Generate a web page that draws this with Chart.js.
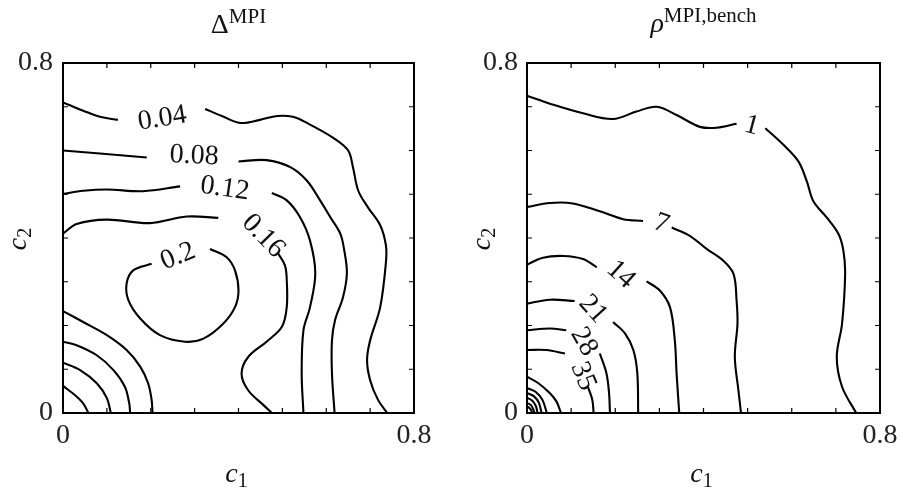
<!DOCTYPE html>
<html>
<head>
<meta charset="utf-8">
<script src="https://cdn.jsdelivr.net/npm/chart.js@4.4.1/dist/chart.umd.min.js"></script>
<style>
html, body { margin: 0; padding: 0; background: #fff; }
#wrap { position: relative; width: 900px; height: 493px; }
.panel { position: absolute; top: 0; width: 450px; height: 493px; }
</style>
</head>
<body>
<div id="wrap">
  <div class="panel" style="left:0"><canvas id="deltaChart" width="450" height="493"></canvas></div>
  <div class="panel" style="left:450px"><canvas id="rhoChart" width="450" height="493"></canvas></div>
</div>
<script>
// axes (both panels)
const axisMin = 0, axisMax = 0.8;
const tickValues = [0, 0.1, 0.2, 0.3, 0.4, 0.5, 0.6, 0.7, 0.8];
const tickLabels = ['0', '', '', '', '', '', '', '', '0.8'];

// Left panel: Delta^MPI contours, each level = list of line pieces [c1, c2]
const deltaLevel004 = [
  [[0, 0.710], [0.046, 0.691], [0.084, 0.677], [0.125, 0.670]],
  [[0.324, 0.695], [0.362, 0.679], [0.404, 0.663], [0.449, 0.670], [0.488, 0.679], [0.524, 0.677], [0.556, 0.663],
   [0.616, 0.629], [0.650, 0.600], [0.661, 0.561], [0.673, 0.508], [0.695, 0.470], [0.723, 0.429], [0.736, 0.383],
   [0.736, 0.344], [0.723, 0.242], [0.700, 0.166], [0.693, 0.121], [0.700, 0.075], [0.718, 0.030], [0.739, 0]]
];
const deltaLevel008 = [
  [[0, 0.600], [0.084, 0.593], [0.191, 0.584]],
  [[0.400, 0.575], [0.464, 0.578], [0.518, 0.562], [0.556, 0.531], [0.586, 0.486], [0.609, 0.448], [0.632, 0.410],
   [0.641, 0.372], [0.647, 0.319], [0.638, 0.264], [0.620, 0.212], [0.613, 0.166], [0.613, 0.091], [0.619, 0]]
];
const deltaLevel012 = [
  [[0, 0.501], [0.046, 0.508], [0.100, 0.511], [0.182, 0.507], [0.267, 0.518]],
  [[0.476, 0.503], [0.510, 0.486], [0.540, 0.448], [0.563, 0.394], [0.575, 0.319], [0.563, 0.242], [0.548, 0.189],
   [0.544, 0.091], [0.548, 0]]
];
const deltaLevel016 = [
  [[0, 0.410], [0.031, 0.432], [0.100, 0.442], [0.198, 0.434], [0.282, 0.449], [0.354, 0.446]],
  [[0.490, 0.365], [0.506, 0.337], [0.510, 0.303], [0.510, 0.242], [0.499, 0.197], [0.464, 0.163], [0.422, 0.128],
   [0.407, 0.090], [0.422, 0.052], [0.457, 0.018], [0.476, 0]]
];
const deltaLevel020 = [
  [[0.335, 0.375], [0.373, 0.356], [0.392, 0.326], [0.400, 0.280], [0.392, 0.242], [0.365, 0.204], [0.320, 0.170],
   [0.278, 0.163], [0.221, 0.178], [0.176, 0.216], [0.149, 0.258], [0.145, 0.296], [0.160, 0.326], [0.202, 0.341]]
];
// unlabelled levels near the origin (0.16, 0.12, 0.08, 0.04)
const deltaCorner = [
  [[0, 0.233], [0.046, 0.208], [0.100, 0.178], [0.145, 0.144], [0.176, 0.106], [0.194, 0.068], [0.202, 0.030], [0.204, 0]],
  [[0, 0.163], [0.031, 0.155], [0.077, 0.132], [0.115, 0.098], [0.141, 0.060], [0.151, 0.022], [0.153, 0]],
  [[0, 0.115], [0.039, 0.098], [0.077, 0.068], [0.100, 0.034], [0.109, 0]],
  [[0, 0.062], [0.027, 0.041], [0.046, 0.022], [0.058, 0]]
];
const deltaLabels = [
  { text: '0.04', x: 0.226, y: 0.675, rot: -9 },
  { text: '0.08', x: 0.299, y: 0.590, rot: 3 },
  { text: '0.12', x: 0.369, y: 0.515, rot: 8 },
  { text: '0.16', x: 0.458, y: 0.406, rot: 46 },
  { text: '0.2', x: 0.261, y: 0.360, rot: -22 }
];

// Right panel: rho^MPI,bench contours
const rhoLevel1 = [
  [[0, 0.725], [0.052, 0.707], [0.127, 0.685], [0.195, 0.672], [0.248, 0.689], [0.294, 0.700], [0.339, 0.681],
   [0.392, 0.654], [0.430, 0.652], [0.475, 0.661]],
  [[0.540, 0.651], [0.581, 0.613], [0.615, 0.575], [0.634, 0.530], [0.649, 0.484], [0.680, 0.446], [0.706, 0.409],
   [0.717, 0.371], [0.721, 0.318], [0.714, 0.204], [0.702, 0.128], [0.714, 0.060], [0.746, 0]]
];
const rhoLevel7 = [
  [[0, 0.471], [0.052, 0.480], [0.104, 0.479], [0.165, 0.461], [0.218, 0.443], [0.263, 0.439]],
  [[0.328, 0.424], [0.369, 0.405], [0.407, 0.375], [0.445, 0.348], [0.468, 0.318], [0.475, 0.257], [0.477, 0.204],
   [0.471, 0.128], [0.479, 0.053], [0.485, 0]]
];
const rhoLevel14 = [
  [[0, 0.339], [0.036, 0.355], [0.082, 0.359], [0.127, 0.352], [0.158, 0.333]],
  [[0.271, 0.301], [0.301, 0.280], [0.324, 0.242], [0.335, 0.166], [0.339, 0.091], [0.345, 0]]
];
const rhoLevel21 = [
  [[0, 0.250], [0.052, 0.259], [0.108, 0.256]],
  [[0.195, 0.208], [0.222, 0.182], [0.241, 0.144], [0.250, 0.091], [0.252, 0]]
];
const rhoLevel28 = [
  [[0, 0.189], [0.052, 0.193], [0.089, 0.189]],
  [[0.165, 0.136], [0.180, 0.091], [0.186, 0.045], [0.188, 0]]
];
const rhoLevel35 = [
  [[0, 0.144], [0.044, 0.144], [0.086, 0.136]],
  [[0.138, 0.060], [0.148, 0.030], [0.151, 0]]
];
// tight unlabelled rings at the origin
const rhoInner = [
  [[0, 0.083], [0.026, 0.068], [0.052, 0.045], [0.067, 0.026], [0.077, 0]],
  [[0, 0.057], [0.020, 0.048], [0.035, 0.030], [0.045, 0]],
  [[0, 0.046], [0.016, 0.038], [0.027, 0.023], [0.033, 0]],
  [[0, 0.035], [0.012, 0.028], [0.020, 0.016], [0.024, 0]],
  [[0, 0.023], [0.009, 0.018], [0.014, 0.009], [0.017, 0]],
  [[0, 0.015], [0.006, 0.011], [0.010, 0.005], [0.011, 0]]
];
const rhoLabels = [
  { text: '1', x: 0.510, y: 0.659, rot: 15 },
  { text: '7', x: 0.305, y: 0.435, rot: 20 },
  { text: '14', x: 0.214, y: 0.318, rot: 42 },
  { text: '21', x: 0.151, y: 0.239, rot: 48 },
  { text: '28', x: 0.131, y: 0.164, rot: 60 },
  { text: '35', x: 0.129, y: 0.085, rot: 68 }
];

const SERIF = '"Liberation Serif", "DejaVu Serif", serif';

// draw a row of text pieces (main + super/subscripts) centred on cx
function drawParts(ctx, parts, cx, base) {
  let w = 0;
  parts.forEach(p => { ctx.font = p.font; p.w = ctx.measureText(p.t).width; w += p.w; });
  let x = cx - w / 2;
  ctx.textAlign = 'left';
  ctx.textBaseline = 'alphabetic';
  parts.forEach(p => { ctx.font = p.font; ctx.fillText(p.t, x, base + p.dy); x += p.w; });
}

function makeDecor(labels, title, titleBase) {
  return {
    id: 'decor',
    afterDatasetsDraw(chart) {
      const ctx = chart.ctx;
      const a = chart.chartArea;
      const xs = chart.scales.x, ys = chart.scales.y;
      ctx.save();

      // contour labels
      ctx.fillStyle = '#111';
      ctx.font = '28px ' + SERIF;
      ctx.textAlign = 'center';
      ctx.textBaseline = 'middle';
      labels.forEach(l => {
        ctx.save();
        ctx.translate(xs.getPixelForValue(l.x), ys.getPixelForValue(l.y));
        ctx.rotate(l.rot * Math.PI / 180);
        ctx.fillText(l.text, 0, 1);
        ctx.restore();
      });

      // box + inward ticks on all sides
      ctx.strokeStyle = '#000';
      ctx.lineWidth = 2;
      ctx.strokeRect(a.left, a.top, a.right - a.left, a.bottom - a.top);
      ctx.lineWidth = 1.2;
      ctx.beginPath();
      tickValues.forEach(v => {
        const px = xs.getPixelForValue(v), py = ys.getPixelForValue(v);
        ctx.moveTo(px, a.bottom); ctx.lineTo(px, a.bottom - 5);
        ctx.moveTo(px, a.top); ctx.lineTo(px, a.top + 5);
        ctx.moveTo(a.left, py); ctx.lineTo(a.left + 5, py);
        ctx.moveTo(a.right, py); ctx.lineTo(a.right - 5, py);
      });
      ctx.stroke();

      // title and axis names
      ctx.fillStyle = '#111';
      const mid = (a.left + a.right) / 2;
      drawParts(ctx, title, mid, titleBase);
      drawParts(ctx, [
        { t: 'c', font: 'italic 28px ' + SERIF, dy: 0 },
        { t: '1', font: '20px ' + SERIF, dy: 5 }
      ], mid - 2, 482);
      ctx.save();
      ctx.translate(a.left - 37, (a.top + a.bottom) / 2 + 1);
      ctx.rotate(-Math.PI / 2);
      drawParts(ctx, [
        { t: 'c', font: 'italic 28px ' + SERIF, dy: 0 },
        { t: '2', font: '20px ' + SERIF, dy: 5 }
      ], 0, 0);
      ctx.restore();

      ctx.restore();
    }
  };
}

function makeChart(id, levels, labels, title, titleBase, yWidth, padRight, yPad) {
  const datasets = levels.flat(1).map(seg => ({
    data: seg.map(p => ({ x: p[0], y: p[1] })),
    showLine: true,
    borderColor: '#000',
    borderWidth: 2.1,
    pointRadius: 0,
    tension: 0.35,
    fill: false
  }));
  const tickFont = { family: SERIF, size: 28 };
  return new Chart(document.getElementById(id), {
    type: 'scatter',
    data: { datasets: datasets },
    options: {
      responsive: false,
      animation: false,
      layout: { padding: { top: 63, right: padRight, left: 0, bottom: 0 } },
      plugins: { legend: { display: false }, tooltip: { enabled: false } },
      scales: {
        x: {
          type: 'linear', min: axisMin, max: axisMax,
          grid: { display: false, drawTicks: false },
          border: { display: false },
          ticks: {
            stepSize: 0.1, autoSkip: false, maxRotation: 0, padding: 6,
            color: '#222', font: tickFont,
            callback: (v, i) => tickLabels[i]
          },
          afterFit: s => { s.height = 80; s.paddingLeft = 0; s.paddingRight = 0; }
        },
        y: {
          type: 'linear', min: axisMin, max: axisMax,
          grid: { display: false, drawTicks: false },
          border: { display: false },
          ticks: {
            stepSize: 0.1, autoSkip: false, padding: yPad,
            color: '#222', font: tickFont,
            callback: (v, i) => tickLabels[i]
          },
          afterFit: s => { s.width = yWidth; s.paddingTop = 0; s.paddingBottom = 0; }
        }
      }
    },
    plugins: [makeDecor(labels, title, titleBase)]
  });
}

makeChart('deltaChart',
  [deltaLevel004, deltaLevel008, deltaLevel012, deltaLevel016, deltaLevel020, deltaCorner],
  deltaLabels,
  [{ t: '\u0394', font: '28px ' + SERIF, dy: 0 }, { t: 'MPI', font: '21px ' + SERIF, dy: -10 }],
  33, 63, 36, 10);

makeChart('rhoChart',
  [rhoLevel1, rhoLevel7, rhoLevel14, rhoLevel21, rhoLevel28, rhoLevel35, rhoInner],
  rhoLabels,
  [{ t: '\u03c1', font: 'italic 28px ' + SERIF, dy: 0 }, { t: 'MPI,bench', font: '21px ' + SERIF, dy: -10 }],
  32, 77, 20, 9);
</script>
</body>
</html>
